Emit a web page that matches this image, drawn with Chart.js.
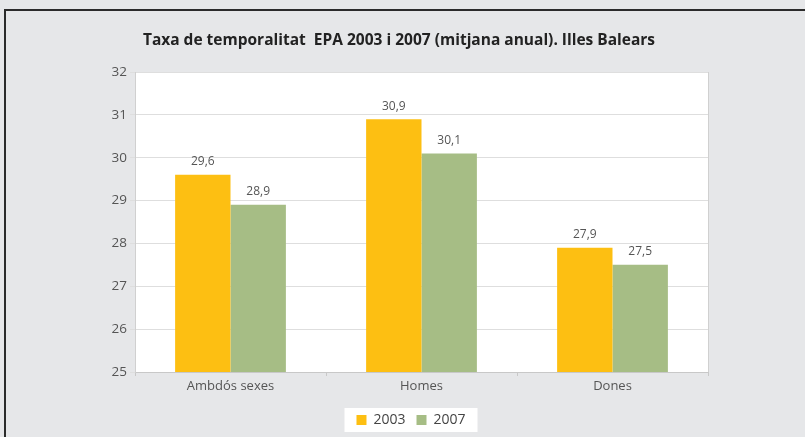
<!DOCTYPE html>
<html lang="ca">
<head>
  <meta charset="UTF-8">
  <title>Taxa de temporalitat EPA 2003 i 2007</title>
  <script src="https://cdn.jsdelivr.net/npm/chart.js"></script>
  <style>
    html, body { margin: 0; padding: 0; background: #e6e7e9; }
    #wrap { width: 805px; height: 437px; }
  </style>
</head>
<body>
  <div id="wrap"><canvas id="chart" width="805" height="437"></canvas></div>

  <script>
    const categories = ['Ambdós sexes', 'Homes', 'Dones'];
    const values2003 = [29.6, 30.9, 27.9];
    const values2007 = [28.9, 30.1, 27.5];
    const seriesLabels = ['2003', '2007'];

    const FONT = '"Open Sans", "Noto Sans", sans-serif';

    // fons gris, marc fosc, zona del gràfic en blanc i caixa de la llegenda
    const backdrop = {
      id: 'backdrop',
      afterUpdate(chart) {
        // la llegenda de l'original no està centrada, va una mica a la dreta
        const lg = chart.legend;
        if (lg) {
          lg.left += 12;
          lg.right += 12;
          (lg.legendHitBoxes || []).forEach(b => { b.left += 12; });
        }
      },
      beforeDraw(chart) {
        const { ctx, chartArea: a, width, height } = chart;
        ctx.save();
        ctx.fillStyle = '#e6e7e9';
        ctx.fillRect(0, 0, width, height);
        ctx.fillStyle = '#2b2b2b';
        ctx.fillRect(4, 9, width - 4, 2);
        ctx.fillRect(4, 9, 2, height - 9);
        ctx.fillStyle = '#ffffff';
        ctx.fillRect(a.left, a.top, a.right - a.left, a.bottom - a.top);
        const lg = chart.legend;
        if (lg && lg.legendHitBoxes && lg.legendHitBoxes.length) {
          const boxes = lg.legendHitBoxes;
          const x0 = Math.min(...boxes.map(b => b.left)) - 12;
          const x1 = Math.max(...boxes.map(b => b.left + b.width)) + 12;
          const y0 = boxes[0].top - 5;
          ctx.fillRect(x0, y0, x1 - x0, boxes[0].height + 10);
        }
        ctx.restore();
      },
      afterDraw(chart) {
        const { ctx, chartArea: a } = chart;
        ctx.save();
        ctx.strokeStyle = '#d0d0d0';
        ctx.lineWidth = 1;
        ctx.beginPath();
        ctx.moveTo(a.right + 0.5, a.top);
        ctx.lineTo(a.right + 0.5, a.bottom);
        ctx.stroke();
        ctx.restore();
      }
    };

    // etiquetes de valor damunt de cada barra, amb coma decimal
    const valueLabels = {
      id: 'valueLabels',
      afterDatasetsDraw(chart) {
        const { ctx } = chart;
        ctx.save();
        ctx.font = '12px ' + FONT;
        ctx.fillStyle = '#555555';
        ctx.textAlign = 'center';
        ctx.textBaseline = 'bottom';
        chart.data.datasets.forEach((ds, i) => {
          chart.getDatasetMeta(i).data.forEach((bar, j) => {
            ctx.fillText(ds.data[j].toFixed(1).replace('.', ','), bar.x, bar.y - 7);
          });
        });
        ctx.restore();
      }
    };

    new Chart(document.getElementById('chart'), {
      type: 'bar',
      data: {
        labels: categories,
        datasets: [
          { label: seriesLabels[0], data: values2003, backgroundColor: '#fdbf12' },
          { label: seriesLabels[1], data: values2007, backgroundColor: '#a6bd85' }
        ]
      },
      options: {
        responsive: false,
        animation: false,
        devicePixelRatio: 1,
        layout: { padding: { left: 90, right: 97, top: 0, bottom: 0 } },
        datasets: {
          bar: { categoryPercentage: 0.58, barPercentage: 1.0 }
        },
        scales: {
          x: {
            grid: { display: true, drawOnChartArea: false, offset: true, tickLength: 4, color: '#c8c8c8' },
            border: { color: '#c8c8c8' },
            ticks: { color: '#555555', font: { family: FONT, size: 13 }, padding: 2 },
            afterFit(scale) { scale.height = 30; }
          },
          y: {
            min: 25,
            max: 32,
            ticks: { stepSize: 1, color: '#555555', font: { family: FONT, size: 13.5 }, padding: 3 },
            grid: { color: '#dedede', tickLength: 5 },
            border: { color: '#d0d0d0' },
            afterFit(scale) { scale.width = 45; }
          }
        },
        plugins: {
          title: {
            display: true,
            text: 'Taxa de temporalitat  EPA 2003 i 2007 (mitjana anual). Illes Balears',
            color: '#222222',
            font: { family: FONT, size: 15.5, weight: 'bold' },
            padding: { top: 31, bottom: 22.4 }
          },
          legend: {
            position: 'bottom',
            labels: {
              boxWidth: 10,
              boxHeight: 10,
              color: '#444444',
              font: { family: FONT, size: 14 },
              padding: 11
            }
          },
          tooltip: { enabled: false }
        }
      },
      plugins: [backdrop, valueLabels]
    });
  </script>
</body>
</html>
